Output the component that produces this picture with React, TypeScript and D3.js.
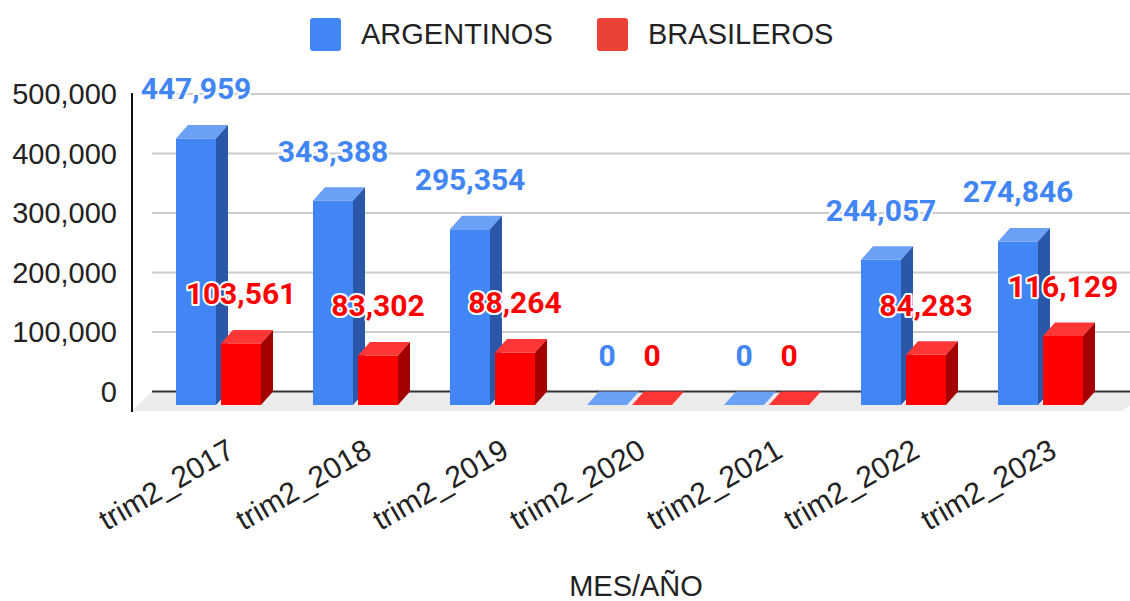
import React from "react";
import * as d3 from "d3";

const categories = ["trim2_2017", "trim2_2018", "trim2_2019", "trim2_2020", "trim2_2021", "trim2_2022", "trim2_2023"];
const argentinos = [447959, 343388, 295354, 0, 0, 244057, 274846];
const brasileros = [103561, 83302, 88264, 0, 0, 84283, 116129];
const yTicks = [0, 100000, 200000, 300000, 400000, 500000];
const seriesNames = ["ARGENTINOS", "BRASILEROS"];

const W = 1130;
const H = 601;
// 3d offsets
const DX = 12;
const DY = 13.5;
const FLOOR_DX = 20;

const palette = [
  { front: "#4285f4", side: "#2b57a8", top: "#6aa0f6", label: "#4285f4", legend: "#4285f4" },
  { front: "#ff0000", side: "#a50000", top: "#ff3636", label: "#ff0000", legend: "#ea4335" },
];

export default function App() {
  const axisX = 132;
  const backLeft = axisX + FLOOR_DX;
  const right = W;

  // back wall scale (gridlines)
  const y = d3.scaleLinear().domain([0, 500000]).range([391.5, 94]);
  const yFront = (v: number) => y(v) + DY;

  const x = d3.scaleBand<string>().domain(categories).range([150, 1109]).paddingInner(0);
  const xs = d3.scaleBand<string>().domain(seriesNames).range([26, 111]).paddingInner(5 / 45);
  const bw = xs.bandwidth();
  const fmt = d3.format(",");

  const series = [argentinos, brasileros];

  const bars: any[] = [];
  categories.forEach((c, i) => {
    series.forEach((vals, s) => {
      const v = vals[i];
      const x0 = (x(c) as number) + (xs(seriesNames[s]) as number);
      const yt = yFront(v);
      const y0 = yFront(0);
      bars.push({ c, s, v, x0, yt, y0 });
    });
  });

  const poly = (pts: number[][]) => pts.map((p) => p.join(",")).join(" ");

  const axisFont = "Arial, 'Liberation Sans', sans-serif";
  const labelFont = "Roboto, 'Noto Sans', sans-serif";

  return (
    <svg
      width={W}
      height={H}
      style={{ display: "block", position: "absolute", left: 0, top: 0 }}
      xmlns="http://www.w3.org/2000/svg"
    >
      <rect width={W} height={H} fill="#ffffff" />

      {/* legend */}
      {seriesNames.map((n, s) => {
        const lx = s === 0 ? 310 : 597;
        return (
          <g key={n}>
            <rect x={lx} y={18} width={31} height={33} rx={3} fill={palette[s].legend} />
            <text x={lx + 51} y={44} fontFamily={axisFont} fontSize={29} fill="#222222">{n}</text>
          </g>
        );
      })}

      {/* floor */}
      <polygon
        points={poly([
          [axisX, yFront(0) + 6],
          [backLeft, y(0)],
          [right + 20, y(0)],
          [1122, yFront(0) + 6],
        ])}
        fill="#ebebeb"
      />

      {/* gridlines */}
      {yTicks.filter((t) => t > 0).map((t) => (
        <line key={t} x1={backLeft} x2={right} y1={y(t)} y2={y(t)} stroke="#cccccc" strokeWidth={2} />
      ))}
      <line x1={backLeft} x2={right} y1={y(0)} y2={y(0)} stroke="#333333" strokeWidth={2} />

      {/* y tick labels */}
      {yTicks.map((t) => (
        <text key={t} x={117} y={y(t)} dy="0.36em" textAnchor="end" fontFamily={axisFont} fontSize={29} fill="#222222">
          {fmt(t)}
        </text>
      ))}

      {/* bars */}
      {bars.map((b) => {
        const p = palette[b.s];
        if (b.v === 0) {
          return (
            <polygon
              key={b.c + b.s}
              points={poly([[b.x0, b.y0], [b.x0 + DX, b.y0 - DY], [b.x0 + bw + DX, b.y0 - DY], [b.x0 + bw, b.y0]])}
              fill={p.top}
            />
          );
        }
        return (
          <g key={b.c + b.s}>
            <rect x={b.x0} y={b.yt} width={bw} height={b.y0 - b.yt} fill={p.front} />
            <polygon
              points={poly([[b.x0, b.yt], [b.x0 + DX, b.yt - DY], [b.x0 + bw + DX, b.yt - DY], [b.x0 + bw, b.yt]])}
              fill={p.top}
            />
            <polygon
              points={poly([[b.x0 + bw, b.yt], [b.x0 + bw + DX, b.yt - DY], [b.x0 + bw + DX, b.y0 - DY], [b.x0 + bw, b.y0]])}
              fill={p.side}
            />
          </g>
        );
      })}

      {/* value labels */}
      {bars.map((b) => (
        <text
          key={"l" + b.c + b.s}
          x={b.x0 + bw / 2}
          y={b.yt - 39}
          textAnchor="middle"
          fontFamily={labelFont}
          fontWeight="bold"
          fontSize={30}
          fill={palette[b.s].label}
          stroke="#ffffff"
          strokeWidth={4}
          strokeLinejoin="round"
          style={{ paintOrder: "stroke" }}
        >
          {fmt(b.v)}
        </text>
      ))}

      {/* y axis line */}
      <line x1={axisX} x2={axisX} y1={93} y2={412} stroke="#111111" strokeWidth={2} />

      {/* x labels */}
      {categories.map((c) => {
        const cx = (x(c) as number) + x.bandwidth() / 2 + 18;
        const cy = 456;
        return (
          <text
            key={c}
            transform={`translate(${cx},${cy}) rotate(-30)`}
            textAnchor="end"
            fontFamily={axisFont}
            fontSize={30}
            fill="#222222"
          >
            {c}
          </text>
        );
      })}

      {/* x title */}
      <text x={636} y={596} textAnchor="middle" fontFamily={axisFont} fontSize={29} fill="#222222">
        MES/AÑO
      </text>
    </svg>
  );
}
